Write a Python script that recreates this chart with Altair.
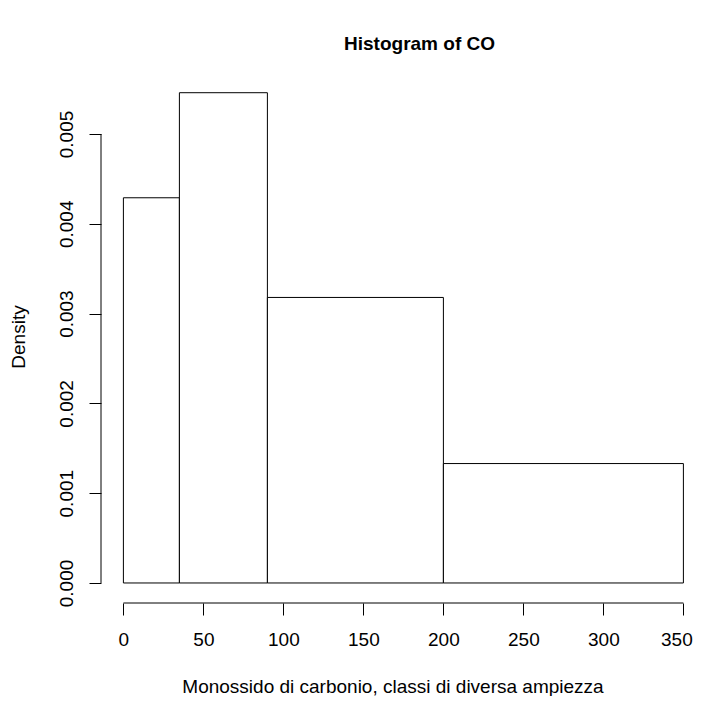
import altair as alt
import pandas as pd

# Data
breaks = [0, 35, 90, 200, 350]
density = [0.00429, 0.00546, 0.00318, 0.00133]
x_ticks = [0, 50, 100, 150, 200, 250, 300, 350]
y_ticks = [0.000, 0.001, 0.002, 0.003, 0.004, 0.005]

bars = pd.DataFrame({
    "start": breaks[:-1],
    "end": breaks[1:],
    "density": density,
    "base": [0.0] * len(density),
})

FONT = "Liberation Sans"
W, H = 583, 533
xdom = [-14, -14 + W / 1.6]
ydom = [-0.000223, 0.005713]

xscale = alt.Scale(domain=xdom, nice=False, zero=False)
yscale = alt.Scale(domain=ydom, nice=False, zero=False)

hist = alt.Chart(bars).mark_rect(
    fill="white", stroke="black", strokeWidth=1
).encode(
    x=alt.X("start:Q", scale=xscale, axis=alt.Axis(
        values=x_ticks, domain=False, grid=False, tickSize=12, tickColor="black",
        tickWidth=1, labelFontSize=19, labelFont=FONT, labelColor="black",
        labelPadding=15, labelFlush=False,
        labelOffset={"condition": {"test": f"datum.value === {max(x_ticks)}", "value": -7},
                     "value": 0},
        title="Monossido di carbonio, classi di diversa ampiezza",
        titleFont=FONT, titleFontSize=19, titleFontWeight="normal",
        titleColor="black", titlePadding=28)),
    x2="end:Q",
    y=alt.Y("density:Q", scale=yscale, axis=alt.Axis(
        values=y_ticks, format=".3f", domain=False, grid=False, tickSize=12,
        tickColor="black", tickWidth=1, labelFontSize=19, labelFont=FONT,
        labelColor="black", labelAngle=270, labelAlign="center",
        labelBaseline="bottom", labelPadding=13, labelFlush=False,
        title="Density", titleFont=FONT, titleFontSize=19,
        titleFontWeight="normal", titleColor="black", titlePadding=29)),
    y2="base:Q",
)

xaxis_line = alt.Chart(pd.DataFrame({"a": [min(x_ticks)], "b": [max(x_ticks)]})).mark_rule(
    color="black", strokeWidth=1
).encode(
    x=alt.X("a:Q", scale=xscale), x2="b:Q", y=alt.value(H)
)

yaxis_line = alt.Chart(pd.DataFrame({"a": [min(y_ticks)], "b": [max(y_ticks)]})).mark_rule(
    color="black", strokeWidth=1
).encode(
    y=alt.Y("a:Q", scale=yscale), y2="b:Q", x=alt.value(0)
)

chart = alt.layer(hist, xaxis_line, yaxis_line).properties(
    width=W,
    height=H,
    title=alt.TitleParams(
        "Histogram of CO", font=FONT, fontSize=19, fontWeight="bold",
        color="black", anchor="middle", dx=27, offset=16),
    autosize=alt.AutoSizeParams(type="none"),
    padding={"left": 93, "top": 62, "right": 9, "bottom": 93},
    background="white",
).configure_view(stroke=None, strokeWidth=0)

chart.save("out.html", embed_options={"renderer": "svg", "actions": False})
